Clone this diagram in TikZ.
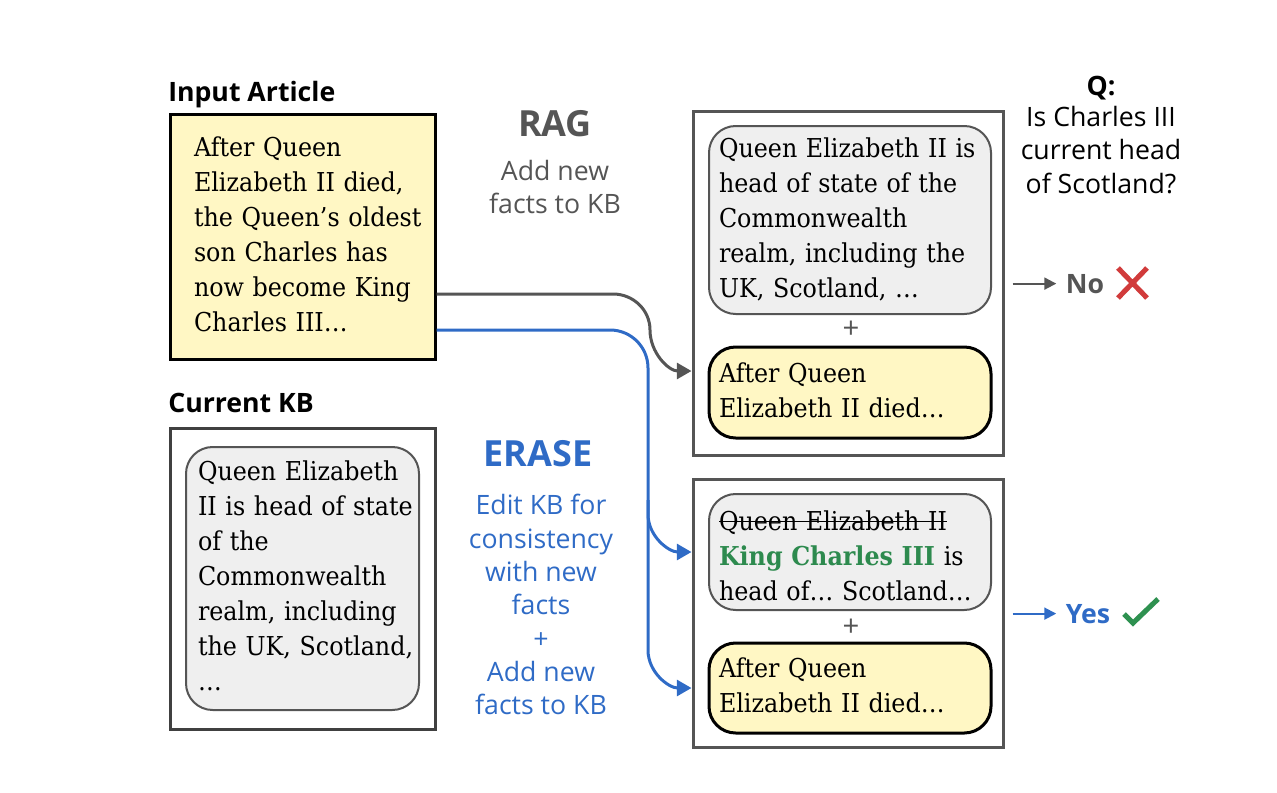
\documentclass[tikz,border=0pt]{standalone}
\usepackage{fontspec}
\setmainfont{DejaVu Serif}[FakeStretch=0.915]
\setsansfont{Open Sans}
\usepackage{tikz}
\usetikzlibrary{arrows.meta}

\definecolor{notefill}{HTML}{FFF7C4}
\definecolor{kbfill}{HTML}{EFEFEF}
\definecolor{framegray}{HTML}{555555}
\definecolor{ragcol}{HTML}{555555}
\definecolor{erasecol}{HTML}{2F6BC6}
\definecolor{newfact}{HTML}{2D8A4E}
\definecolor{wrongcol}{HTML}{D13B3B}
\definecolor{rightcol}{HTML}{2E9150}

\newcommand{\strikeout}[1]{\setbox0\hbox{#1}\rlap{\rule[0.3em]{\wd0}{1pt}}\box0}
\newcommand{\leftlines}[1]{\begin{tabular}{@{}l@{}}#1\end{tabular}}
\newcommand{\midlines}[1]{\begin{tabular}{@{}c@{}}#1\end{tabular}}

\tikzset{
    serif/.style={font=\fontsize{19.5}{26.25}\selectfont},
    sans/.style={font=\sffamily\fontsize{20}{25}\selectfont},
    headlabel/.style={font=\sffamily\bfseries\fontsize{20}{25}\selectfont, inner sep=0pt},
    title/.style={font=\sffamily\bfseries\fontsize{27}{30}\selectfont, inner sep=0pt},
    answer/.style={font=\sffamily\bfseries\fontsize{20}{25}\selectfont, inner xsep=7pt, inner ysep=0pt},
    plus/.style={font=\sffamily\fontsize{22}{24}\selectfont, inner sep=0pt},
    articlebox/.style={serif, draw=black, fill=notefill, line width=2.25pt, align=left, inner xsep=18pt},
    outerbox/.style={draw=framegray, line width=2.25pt, minimum width=232.5pt},
    kbbox/.style={serif, draw=framegray, fill=kbfill, line width=1.5pt, rounded corners=20pt, align=left},
    notebox/.style={serif, draw=black, fill=notefill, line width=2.25pt, rounded corners=20pt, align=left,
        text width=196.5pt, inner xsep=7.5pt},
    link/.style={line width=2.25pt, rounded corners=0pt, -{Triangle[length=11pt,width=12pt]}},
    shortlink/.style={line width=1.5pt, shorten <=6pt, -{Triangle[length=9pt,width=9pt]}},
    markline/.style={line width=3.8pt}
}

\begin{document}
\begin{tikzpicture}[x=0.75pt, y=-0.75pt]
    \useasboundingbox (0,0) rectangle (1277,792);

    \node[headlabel, anchor=base west] (articlelabel) at (168,102) {Input Article};
    \node[articlebox, text width=162.75pt, minimum height=183.75pt] (article) at (302.5,236.5)
        {\leftlines{After Queen\\Elizabeth II died,\\the Queen’s oldest\\son Charles has\\now become King\\Charles III…}};

    \node[headlabel, anchor=base west] (kblabel) at (168,412) {Current KB};
    \node[outerbox, minimum width=198.75pt, minimum height=225.75pt, draw=black!75] (kbframe) at (302.5,578.5) {};
    \node[kbbox, text width=156.75pt, inner xsep=9pt, minimum height=197.25pt] (kb) at (302.5,578.5)
        {\leftlines{Queen Elizabeth\\II is head of state\\of the\\Commonwealth\\realm, including\\the UK, Scotland,\\…}};

    \node[title, text=ragcol, anchor=base] (ragtitle) at (555,136) {RAG};
    \node[sans, text=ragcol] (ragdesc) at (555,190) {\midlines{Add new\\facts to KB}};

    \node[title, text=erasecol, anchor=base] (erasetitle) at (538,466) {ERASE};
    \node[sans, text=erasecol] (erasedesc) at (541,608)
        {\midlines{Edit KB for\\consistency\\with new\\facts\\+\\Add new\\facts to KB}};

    \node[outerbox, minimum height=258pt] (ragframe) at (848,283) {};
    \node[kbbox, text width=196.5pt, inner xsep=7.5pt, minimum height=141pt] (ragkb) at (850,220)
        {\leftlines{Queen Elizabeth II is\\head of state of the\\Commonwealth\\realm, including the\\UK, Scotland, …}};
    \node[plus, text=framegray] (ragplus) at (851,330) {+};
    \node[notebox, minimum height=68.25pt] (ragfact) at (850,392.5)
        {\leftlines{After Queen\\Elizabeth II died…}};

    \node[outerbox, minimum height=201pt] (eraseframe) at (848,613) {};
    \node[kbbox, text width=196.5pt, inner xsep=7.5pt, minimum height=87pt] (erasekb) at (850,552)
        {\raisebox{-4.5pt}[\height][\depth]{\leftlines{\strikeout{Queen Elizabeth II}\\{\bfseries\color{newfact}King Charles III} is\\head of… Scotland…}}};
    \node[plus, text=framegray] (eraseplus) at (851,628) {+};
    \node[notebox, minimum height=67.5pt] (erasefact) at (850,688)
        {\leftlines{After Queen\\Elizabeth II died…}};

    \node[headlabel, anchor=base] (qlabel) at (1101,95) {Q:};
    \node[sans] (question) at (1101,153) {\midlines{Is Charles III\\current head\\of Scotland?}};

    \node[answer, text=ragcol, anchor=base] (no) at (1085,293) {No};
    \node[answer, text=erasecol, anchor=base] (yes) at (1088,623) {Yes};

    \draw[shortlink, ragcol] (ragframe.east |- no) -- (no);
    \draw[shortlink, erasecol] (eraseframe.east |- yes) -- (yes);

    \draw[markline, wrongcol] (1118,268) -- (1147,298) (1147,268) -- (1118,298);
    \draw[markline, rightcol] (1124,614) -- (1133,623) -- (1158,599);

    \draw[link, ragcol] (article.east |- 0,294) -- (613,294) to[out=0, in=90] (650,330)
        to[out=-90, in=180] (ragframe.west |- 0,371);
    \draw[link, erasecol] (article.east |- 0,330) -- (610,330) to[out=0, in=90] (648,368)
        -- (648,514) to[out=-90, in=180] (eraseframe.west |- erasekb);
    \draw[link, erasecol] (648,500) -- (648,650) to[out=-90, in=180] (eraseframe.west |- erasefact);
\end{tikzpicture}
\end{document}
